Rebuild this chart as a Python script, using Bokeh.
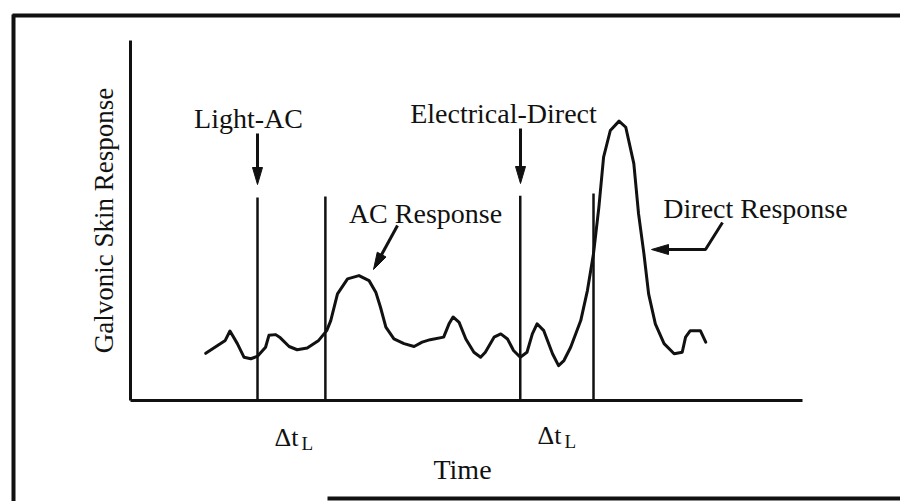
import math
from bokeh.plotting import figure
from bokeh.models import Range1d
from bokeh.core.properties import value
from bokeh.embed import file_html
from bokeh.resources import INLINE

# ---- data (time units 0..100 along the axis, response units 0..100 up the axis) ----
time = [11.2, 14.1, 14.8, 15.9, 16.9, 17.9, 18.9, 20.1, 20.6, 21.6, 22.3, 23.6, 24.8,
        26.3, 28.0, 29.2, 29.8, 30.8, 32.3, 34.0, 35.5, 36.5, 37.2, 38.0, 39.2, 40.7,
        42.2, 43.4, 44.6, 46.6, 47.4, 48.0, 48.9, 49.9, 51.1, 52.1, 52.8, 54.1, 55.1,
        56.1, 57.0, 58.0, 59.0, 59.8, 60.5, 61.5, 62.8, 63.7, 64.5, 65.5, 67.0, 68.0,
        68.9, 69.7, 70.4, 71.4, 72.7, 73.7, 74.9, 75.6, 76.4, 77.1, 78.1, 79.4, 80.9,
        82.1, 82.6, 83.3, 84.8, 85.6]
response = [13.1, 16.7, 19.3, 15.8, 12.0, 11.6, 12.3, 14.8, 18.1, 18.3, 17.4, 15.0, 14.1,
            14.6, 16.7, 19.4, 22.2, 29.6, 33.8, 34.7, 33.3, 30.1, 25.9, 20.4, 17.1, 15.8,
            15.0, 16.2, 16.9, 17.6, 21.3, 23.2, 21.7, 17.1, 13.4, 12.0, 13.4, 17.6, 18.5,
            17.1, 13.9, 12.0, 13.4, 18.5, 21.3, 19.4, 13.0, 9.7, 11.1, 14.8, 22.2, 30.6,
            40.8, 53.7, 67.6, 75.0, 77.6, 75.9, 65.8, 51.9, 40.8, 29.6, 21.3, 15.8, 13.0,
            13.4, 17.6, 19.4, 19.4, 16.2]
stimulus_times = [18.9, 29.0, 58.0, 68.9]
stimulus_tops = [56.4, 56.7, 56.9, 57.5]
axis_time = [0, 100]
axis_response = [0, 100]

# ---- page-pixel helpers for layout (frame spans the whole 900x501 page) ----
PX_T = 6.72
PX_R = 3.6
def X(px):
    return (px - 130) / PX_T
def Y(py):
    return (400 - py) / PX_R

W, H = 900, 501
p = figure(width=W, height=H, output_backend="svg", toolbar_location=None,
           x_axis_location=None, y_axis_location=None, min_border=0,
           x_range=Range1d(X(0), X(W)), y_range=Range1d(Y(H), Y(0)),
           outline_line_color=None, background_fill_color="white",
           border_fill_color="white")
p.grid.visible = False

ink = "#111111"
FONT = value("Liberation Serif")

# outer frame of the scanned figure
p.line([X(12), X(900)], [Y(15), Y(15)], line_color=ink, line_width=4)
p.line([X(13), X(13)], [Y(14), Y(501)], line_color=ink, line_width=4)
p.line([X(327), X(900)], [Y(498), Y(498)], line_color=ink, line_width=4)

# axes
p.line([axis_time[0], axis_time[0]], [axis_response[0], axis_response[1]],
       line_color=ink, line_width=3)
p.line([axis_time[0], axis_time[1]], [axis_response[0], axis_response[0]],
       line_color=ink, line_width=3)

# stimulus markers
p.segment(x0=stimulus_times, y0=[0] * len(stimulus_times), x1=stimulus_times,
          y1=stimulus_tops, line_color=ink, line_width=2.5)

# response curve
p.line(time, response, line_color=ink, line_width=3, line_join="round", line_cap="round")

# arrows
def arrow(points, head_len=17, half_w=5):
    xs = [X(a) for a, b in points]
    ys = [Y(b) for a, b in points]
    (x1, y1), (x2, y2) = points[-2], points[-1]
    d = math.hypot(x2 - x1, y2 - y1)
    ux, uy = (x2 - x1) / d, (y2 - y1) / d
    bx, by = x2 - ux * head_len, y2 - uy * head_len
    xs[-1] = X(bx + ux * 2)
    ys[-1] = Y(by + uy * 2)
    p.line(xs, ys, line_color=ink, line_width=3)
    tri_x = [X(x2), X(bx - uy * half_w), X(bx + uy * half_w)]
    tri_y = [Y(y2), Y(by + ux * half_w), Y(by - ux * half_w)]
    p.patch(tri_x, tri_y, fill_color=ink, line_color=ink, line_width=1)

arrow([(257, 133), (257, 184)])
arrow([(520, 128), (520, 183)])
arrow([(397, 225), (373, 269)])
arrow([(722, 222), (705, 249), (651, 249)])

# labels
def label(px, py, txt, size="28px", align="center", angle=0.0):
    p.text(x=[X(px)], y=[Y(py)], text=[txt], text_font=FONT, text_font_size=size,
           text_align=align, text_baseline="alphabetic", text_color=ink, angle=angle)

label(248, 118, "Light-AC")
label(503, 113, "Electrical-Direct")
label(425, 213, "AC Response")
label(755, 208, "Direct Response")
label(462, 469, "Time")
label(103, 220, "Galvonic Skin Response", size="27px", angle=math.pi / 2)

label(274, 437, "Δt", size="26px", align="left")
label(301, 443, "L", size="19px", align="left")
label(537, 435, "Δt", size="26px", align="left")
label(564, 441, "L", size="19px", align="left")

open("out.html", "w").write(file_html(p, INLINE))
